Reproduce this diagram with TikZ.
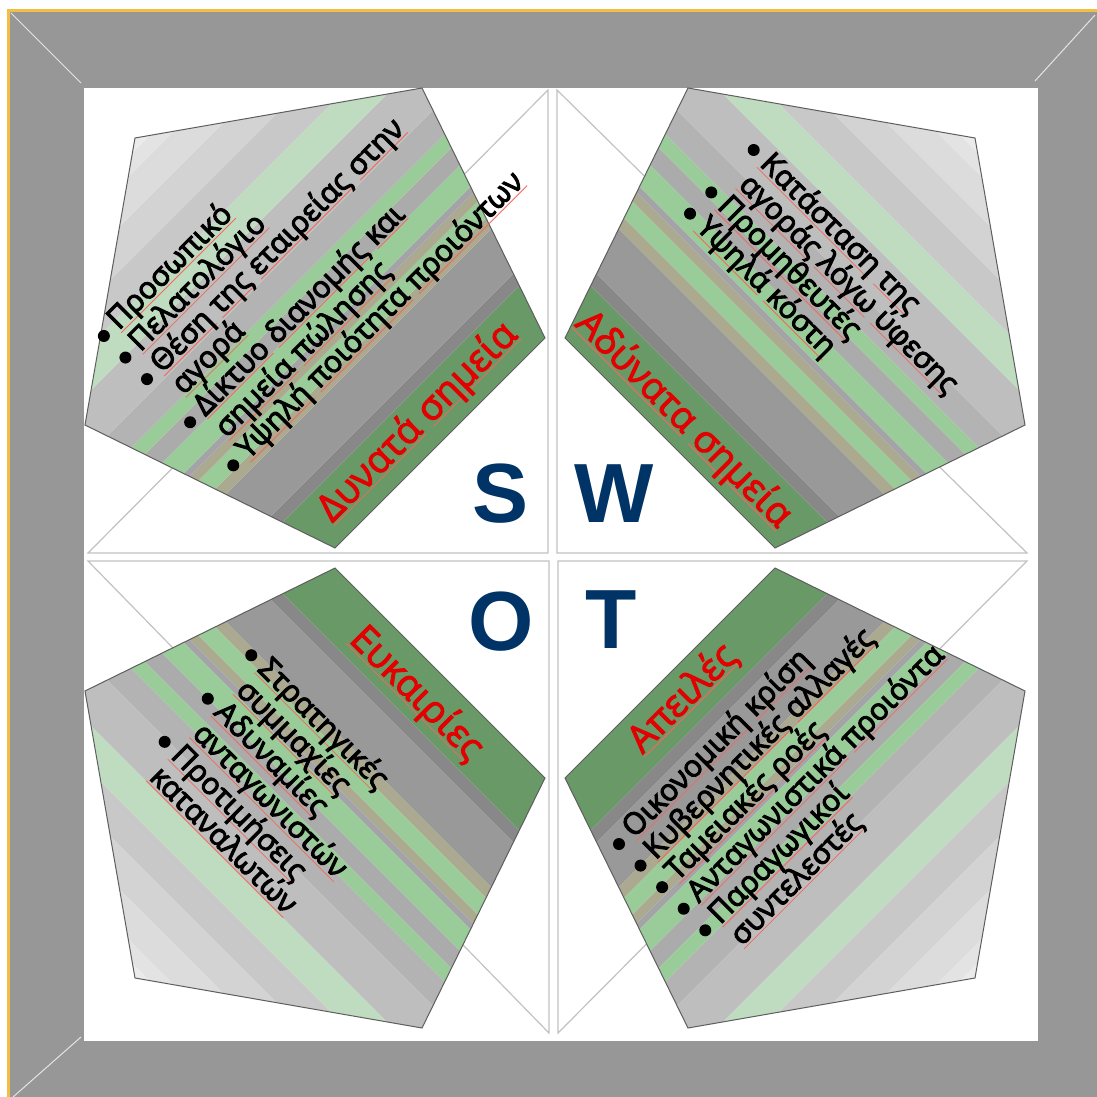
\documentclass[tikz,border=0pt]{standalone}
\usepackage{fontspec}
\setmainfont{Open Sans}
\newfontfamily\gfont{Open Sans}[FakeBold=3.5]
\newfontfamily\tfont{Open Sans}[FakeBold=2.5]
\newfontfamily\swotfont{Liberation Sans}
\definecolor{framegray}{HTML}{979797}
\definecolor{gold}{HTML}{F4BE45}
\definecolor{bevelgray}{HTML}{E4E4E4}
\definecolor{trigray}{HTML}{C2C2C2}
\definecolor{pentgray}{HTML}{5E5E5E}
\definecolor{navy}{HTML}{003366}
\definecolor{tred}{HTML}{E20000}
\definecolor{ulred}{HTML}{F26A5A}
\definecolor{c01}{HTML}{699967}
\definecolor{c02}{HTML}{888888}
\definecolor{c03}{HTML}{999999}
\definecolor{c04}{HTML}{ABA98F}
\definecolor{c05}{HTML}{99CC99}
\definecolor{c06}{HTML}{A4A4A8}
\definecolor{c07}{HTML}{ABABAB}
\definecolor{c08}{HTML}{B3B3B3}
\definecolor{c09}{HTML}{BEBEBE}
\definecolor{c10}{HTML}{C0DCC0}
\definecolor{c11}{HTML}{C8C8C8}
\definecolor{c12}{HTML}{D3D3D3}
\definecolor{c13}{HTML}{DCDCDC}
\definecolor{c14}{HTML}{E3E3E3}
\definecolor{c15}{HTML}{EBEBEB}
\newsavebox\wubox
\newcommand\wu[1]{\sbox\wubox{#1}\rlap{\textcolor{ulred}{\rule[-1.7pt]{\wd\wubox}{0.4pt}}}\usebox\wubox}
\newcommand\band[3]{\fill[#3] (300,-#1-300) -- (-800,-#1+800) -- (-800,-#2+800) -- (300,-#2-300) -- cycle;}
\newcommand\pentpath{(-420,-420) -- (-133,-470) -- (-10,-220) -- (-220,-10) -- (-470,-133) -- cycle}
\newcommand\pentagon[2]{%
\begin{scope}[shift={(555,558)},xscale=#1,yscale=#2]
  \begin{scope}
    \clip \pentpath;
    \band{150}{308}{c01}\band{308}{326}{c02}\band{326}{393}{c03}
    \band{393}{409}{c04}\band{409}{434}{c05}\band{434}{447}{c04}
    \band{447}{456}{c06}\band{456}{488}{c05}\band{488}{514}{c07}
    \band{514}{534}{c05}\band{534}{570}{c08}\band{570}{632}{c09}
    \band{632}{678}{c10}\band{678}{723}{c11}\band{723}{767}{c12}
    \band{767}{808}{c13}\band{808}{828}{c14}\band{828}{950}{c15}
  \end{scope}
  \draw[pentline] \pentpath;
\end{scope}}
\newcommand\li[4]{\fill (#2,#3) circle[radius=3pt]; \node[body] (#1) at ({#2+14},{#3+7}) {#4};}
\newcommand\lc[4]{\node[body] (#1) at ({#2+14},{#3+7}) {#4};}
\tikzset{
  body/.style={anchor=base west, inner sep=0pt, font=\gfont\fontsize{15}{15}\selectfont},
  ttl/.style={anchor=base, inner sep=0pt, text=tred, font=\tfont\fontsize{19}{20}\selectfont},
  swot/.style={inner sep=0pt, text=navy, font=\swotfont\bfseries\fontsize{42}{42}\selectfont},
  pentline/.style={draw=pentgray, line width=0.5pt},
  triline/.style={draw=trigray, line width=0.6pt, fill=white},
  bevel/.style={draw=bevelgray, line width=0.5pt},
}
\begin{document}
\begin{tikzpicture}[x=0.5pt,y=-0.5pt]
\useasboundingbox (0,0) rectangle (1097,1097);
\fill[white] (0,0) rectangle (1097,1097);
% frame
\fill[gold] (7,9) rectangle (1097,1097);
\fill[framegray] (10,12) rectangle (1097,1097);
\fill[white] (84,88) rectangle (1038,1041);
\draw[bevel] (11,13) -- (81,83);
\draw[bevel] (1095,15) -- (1035,81);
\draw[bevel] (13,1097) -- (81,1037);
% triangles
\draw[triline] (88,553) -- (548,90) -- (548,553) -- cycle;
\draw[triline] (557,90) -- (1027,553) -- (557,553) -- cycle;
\draw[triline] (88,561) -- (549,561) -- (549,1033) -- cycle;
\draw[triline] (558,561) -- (1027,561) -- (558,1033) -- cycle;
% pentagons
\pentagon{1}{1}
\pentagon{-1}{1}
\pentagon{1}{-1}
\pentagon{-1}{-1}
% TL text
\begin{scope}[shift={(555,558)}, rotate=45, every node/.append style={rotate=45}]
 \li{s1}{-162}{-476}{\wu{Προσωπικό}}
 \li{s2}{-162}{-445.5}{\wu{Πελατολόγιο}}
 \li{s3}{-162}{-415}{\wu{Θέση} \wu{της} \wu{εταιρείας} \wu{στην}}
 \lc{s3b}{-162}{-384.5}{\wu{αγορά}}
 \li{s4}{-162}{-354}{\wu{Δίκτυο} \wu{διανομής} \wu{και}}
 \lc{s4b}{-162}{-323.5}{\wu{σημεία} \wu{πώλησης}}
 \li{s5}{-162}{-293}{\wu{Υψηλή} \wu{ποιότητα} \wu{προιόντων}}
 \node[ttl] (stitle) at (-1,-182) {\wu{Δυνατά} \wu{σημεία}};
\end{scope}
% TR text
\begin{scope}[shift={(555,558)}, rotate=-45, every node/.append style={rotate=-45}]
 \li{w1}{-148}{-429}{\wu{Κατάσταση} \wu{της}}
 \lc{w1b}{-148}{-399}{\wu{αγοράς} \wu{λόγω} \wu{ύφεσης}}
 \li{w2}{-148}{-369}{\wu{Προμηθευτές}}
 \li{w3}{-148}{-339}{\wu{Υψηλά} \wu{κόστη}}
 \node[ttl] (wtitle) at (-7,-178) {\wu{Αδύνατα} \wu{σημεία}};
\end{scope}
% BL text
\begin{scope}[shift={(555,558)}, rotate=-45, every node/.append style={rotate=-45}]
 \li{o1}{-146}{283.5}{\wu{Στρατηγικές}}
 \lc{o1b}{-146}{314}{\wu{συμμαχίες}}
 \li{o2}{-146}{345}{\wu{Αδυναμίες}}
 \lc{o2b}{-146}{375.5}{\wu{ανταγωνιστών}}
 \li{o3}{-146}{406}{\wu{Προτιμήσεις}}
 \lc{o3b}{-146}{436.5}{\wu{καταναλωτών}}
 \node[ttl] (otitle) at (-2,205) {\wu{Ευκαιρίες}};
\end{scope}
% BR text
\begin{scope}[shift={(555,558)}, rotate=45, every node/.append style={rotate=45}]
 \li{t1}{-157}{247.5}{\wu{Οικονομική} \wu{κρίση}}
 \li{t2}{-157}{278}{\wu{Κυβερνητικές} \wu{αλλαγές}}
 \li{t3}{-157}{308.5}{\wu{Ταμειακές} \wu{ροές}}
 \li{t4}{-157}{339}{\wu{Ανταγωνιστικά} \wu{προιόντα}}
 \li{t5}{-157}{369.5}{\wu{Παραγωγικοί}}
 \lc{t5b}{-157}{400}{\wu{συντελεστές}}
 \node[ttl] (ttitle) at (-9,201) {\wu{Απειλές}};
\end{scope}
% SWOT letters
\node[swot] (S) at (501,494) {S};
\node[swot] (W) at (614,494) {W};
\node[swot] (O) at (501,622) {O};
\node[swot] (T) at (611,620) {T};
\end{tikzpicture}
\end{document}
